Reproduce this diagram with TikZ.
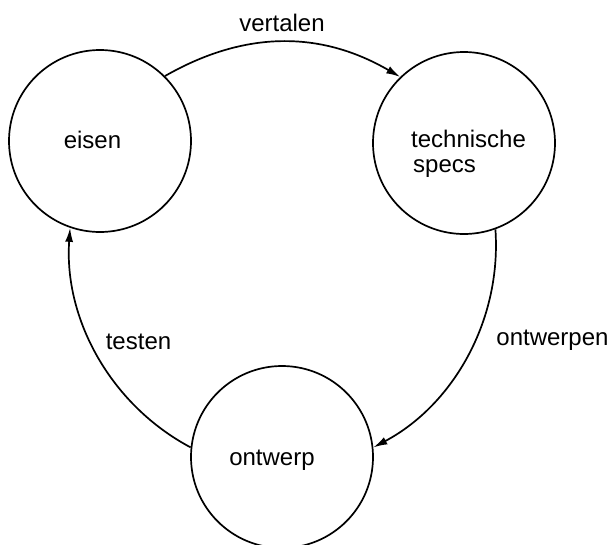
\documentclass[tikz,border=0pt]{standalone}
\usepackage{fontspec}
\setmainfont{Liberation Sans}
\usetikzlibrary{arrows.meta}
\begin{document}
\begin{tikzpicture}[x=1pt,y=-1pt,
  state/.style={circle,draw,line width=1.7pt,minimum size=182pt,inner sep=0pt},
  lbl/.style={font=\fontsize{24}{25}\selectfont,inner sep=0pt,anchor=base},
  flow/.style={line width=1.7pt,-{Latex[length=14pt,width=8pt]}}]
\useasboundingbox (0,0) rectangle (613,544);
\clip (0,0) rectangle (613,544);

% the three phases
\node[state] (eisen) at (100,141) {};
\node[state] (specs) at (464,143) {};
\node[state] (ontwerp) at (282,457) {};

\node[lbl] (teisen) at (92.5,148) {eisen};
\node[lbl,anchor=base west] (tspecs1) at (411,147) {technische};
\node[lbl,anchor=base west] (tspecs2) at (413,172) {specs};
\node[lbl] (tontwerp) at (272,465) {ontwerp};

% transitions between the phases (near-circular arcs)
\draw[flow] (eisen.45) to[bend left=30] (specs.134);
\draw[flow] (specs.-70) to[out=-86,in=28,looseness=0.93] (ontwerp.6);
\draw[flow] (ontwerp.174) to[out=152,in=-94,looseness=0.93] (eisen.-109);

\node[lbl] (lvertalen) at (282,31) {vertalen};
\node[lbl] (ltesten) at (138.5,349) {testen};
\node[lbl] (lontwerpen) at (552.5,345) {ontwerpen};
\end{tikzpicture}
\end{document}
